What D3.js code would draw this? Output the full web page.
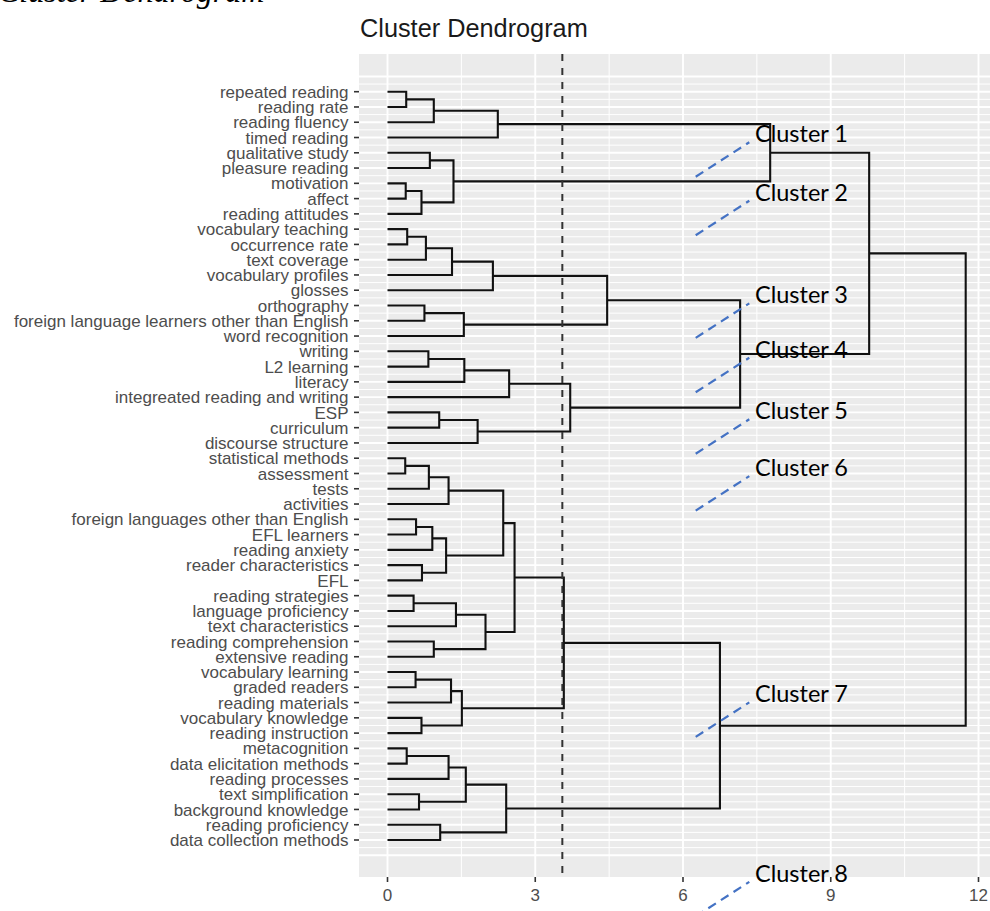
<!DOCTYPE html>
<html>
<head>
<meta charset="utf-8">
<script src="https://cdn.jsdelivr.net/npm/d3@7"></script>
<style>
  html, body { margin: 0; padding: 0; background: #ffffff; overflow: hidden; }
  svg { display: block; }
</style>
</head>
<body>
<script>
// ---------------- data ----------------
const leaves = [
  "repeated reading", "reading rate", "reading fluency", "timed reading",
  "qualitative study", "pleasure reading", "motivation", "affect", "reading attitudes",
  "vocabulary teaching", "occurrence rate", "text coverage", "vocabulary profiles", "glosses",
  "orthography", "foreign language learners other than English", "word recognition",
  "writing", "L2 learning", "literacy", "integreated reading and writing",
  "ESP", "curriculum", "discourse structure",
  "statistical methods", "assessment", "tests", "activities",
  "foreign languages other than English", "EFL learners", "reading anxiety",
  "reader characteristics", "EFL",
  "reading strategies", "language proficiency", "text characteristics",
  "reading comprehension", "extensive reading",
  "vocabulary learning", "graded readers", "reading materials",
  "vocabulary knowledge", "reading instruction",
  "metacognition", "data elicitation methods", "reading processes",
  "text simplification", "background knowledge",
  "reading proficiency", "data collection methods"
];

// hclust-style merge pairs: negative = leaf (1-based), positive = earlier merge (1-based)
const merges = [
  [-1, -2], [1, -3], [2, -4], [-5, -6], [-7, -8], [5, -9], [4, 6], [3, 7],
  [-10, -11], [9, -12], [10, -13], [11, -14], [-15, -16], [13, -17], [12, 14],
  [-18, -19], [16, -20], [17, -21], [-22, -23], [19, -24], [18, 20], [15, 21], [8, 22],
  [-25, -26], [24, -27], [25, -28], [-29, -30], [27, -31], [-32, -33], [28, 29], [26, 30],
  [-34, -35], [32, -36], [-37, -38], [33, 34], [31, 35],
  [-39, -40], [37, -41], [-42, -43], [38, 39], [36, 40],
  [-44, -45], [42, -46], [-47, -48], [43, 44], [-49, -50], [45, 46], [41, 47], [23, 48]
];
const mergeHeights = [
  0.38, 0.94, 2.24, 0.86, 0.37, 0.69, 1.34, 7.77,
  0.40, 0.78, 1.31, 2.14, 0.75, 1.55, 4.46,
  0.83, 1.56, 2.47, 1.05, 1.83, 3.71, 7.16, 9.78,
  0.36, 0.84, 1.24, 0.58, 0.91, 0.70, 1.19, 2.35,
  0.53, 1.39, 0.94, 1.99, 2.58,
  0.57, 1.29, 0.69, 1.51, 3.58,
  0.39, 1.24, 0.64, 1.59, 1.07, 2.41, 6.75, 11.74
];
const cutHeight = 3.55;
const xTicks = [0, 3, 6, 9, 12];
const xMinor = [1.5, 4.5, 7.5, 10.5];

const clusterNames = ["Cluster 1", "Cluster 2", "Cluster 3", "Cluster 4",
                      "Cluster 5", "Cluster 6", "Cluster 7", "Cluster 8"];
const clusterLabelPos = [4.31, 8.14, 14.86, 18.42, 22.45, 26.17, 40.99, 52.74];

// ---------------- layout ----------------
const W = 990, H = 911;
const panel = { left: 359, right: 1000, top: 54, bottom: 877 };

const x = d3.scaleLinear().domain([0, 12]).range([387.5, 978.5]);
const y = d3.scaleLinear().domain([1, 50]).range([91.7, 840]);

const svg = d3.select("body").append("svg")
  .attr("width", W).attr("height", H);

// top-left cropped italic caption
svg.append("text")
  .attr("x", -2).attr("y", 2)
  .attr("font-family", "Liberation Serif, Times New Roman, serif")
  .attr("font-style", "italic")
  .attr("font-size", 32)
  .attr("fill", "#000")
  .text("Cluster Dendrogram");

// title
svg.append("text")
  .attr("x", 360).attr("y", 36.5)
  .attr("font-family", "Liberation Sans, Arial, sans-serif")
  .attr("font-size", 25.3)
  .attr("fill", "#1a1a1a")
  .text("Cluster Dendrogram");

// panel background
svg.append("rect")
  .attr("x", panel.left).attr("y", panel.top)
  .attr("width", panel.right - panel.left)
  .attr("height", panel.bottom - panel.top)
  .attr("fill", "#EBEBEB");

const grid = svg.append("g");
// horizontal grid lines
const hMajor = d3.range(0, 52, 1);
const hMinor = d3.range(0.5, 51, 1);
grid.selectAll(".hmin").data(hMinor).join("line")
  .attr("x1", panel.left).attr("x2", panel.right)
  .attr("y1", d => y(d)).attr("y2", d => y(d))
  .attr("stroke", "#fff").attr("stroke-width", 1);
grid.selectAll(".hmaj").data(hMajor).join("line")
  .attr("x1", panel.left).attr("x2", panel.right)
  .attr("y1", d => y(d)).attr("y2", d => y(d))
  .attr("stroke", "#fff").attr("stroke-width", 1.9);
// vertical grid lines
grid.selectAll(".vmin").data(xMinor).join("line")
  .attr("x1", d => x(d)).attr("x2", d => x(d))
  .attr("y1", panel.top).attr("y2", panel.bottom)
  .attr("stroke", "#fff").attr("stroke-width", 1);
grid.selectAll(".vmaj").data(xTicks).join("line")
  .attr("x1", d => x(d)).attr("x2", d => x(d))
  .attr("y1", panel.top).attr("y2", panel.bottom)
  .attr("stroke", "#fff").attr("stroke-width", 1.9);

// ---------------- dendrogram ----------------
const nodePos = [], nodeH = [];
function childInfo(c) {
  if (c < 0) return { p: -c, h: 0 };
  return { p: nodePos[c - 1], h: nodeH[c - 1] };
}
const segs = [];
merges.forEach((m, i) => {
  const a = childInfo(m[0]), b = childInfo(m[1]);
  const h = mergeHeights[i];
  nodePos[i] = (a.p + b.p) / 2;
  nodeH[i] = h;
  segs.push([[a.h, a.p], [h, a.p], [h, b.p], [b.h, b.p]]);
});
const line = d3.line().x(d => x(d[0])).y(d => y(d[1]));
svg.append("g").selectAll("path").data(segs).join("path")
  .attr("d", line)
  .attr("fill", "none")
  .attr("stroke", "#111")
  .attr("stroke-width", 2.1)
  .attr("stroke-linejoin", "miter");

// cut line
svg.append("line")
  .attr("x1", x(cutHeight)).attr("x2", x(cutHeight))
  .attr("y1", panel.top).attr("y2", panel.bottom)
  .attr("stroke", "#333").attr("stroke-width", 2)
  .attr("stroke-dasharray", "7,7");

// ---------------- axes ----------------
const axisFont = "Liberation Sans, Arial, sans-serif";
const yAxis = svg.append("g");
yAxis.selectAll("line").data(leaves).join("line")
  .attr("x1", panel.left - 5).attr("x2", panel.left)
  .attr("y1", (d, i) => y(i + 1)).attr("y2", (d, i) => y(i + 1))
  .attr("stroke", "#333").attr("stroke-width", 1.6);
yAxis.selectAll("text").data(leaves).join("text")
  .attr("x", panel.left - 10.5)
  .attr("y", (d, i) => y(i + 1))
  .attr("dy", "0.36em")
  .attr("text-anchor", "end")
  .attr("font-family", axisFont)
  .attr("font-size", 17)
  .attr("fill", "#4D4D4D")
  .text(d => d);

const xAxis = svg.append("g");
xAxis.selectAll("line").data(xTicks).join("line")
  .attr("x1", d => x(d)).attr("x2", d => x(d))
  .attr("y1", panel.bottom).attr("y2", panel.bottom + 5)
  .attr("stroke", "#333").attr("stroke-width", 1.6);
xAxis.selectAll("text").data(xTicks).join("text")
  .attr("x", d => x(d)).attr("y", 900.5)
  .attr("text-anchor", "middle")
  .attr("font-family", axisFont)
  .attr("font-size", 17)
  .attr("fill", "#4D4D4D")
  .text(d => d);

// ---------------- cluster annotations ----------------
const ann = svg.append("g");
clusterNames.forEach((name, i) => {
  const b = y(clusterLabelPos[i]);
  ann.append("line")
    .attr("x1", 695.7).attr("y1", b + 34.5)
    .attr("x2", 749.3).attr("y2", b)
    .attr("stroke", "#4472C4").attr("stroke-width", 2.2)
    .attr("stroke-dasharray", "9,6");
  ann.append("text")
    .attr("x", 755).attr("y", b)
    .attr("font-family", "Lato, Open Sans, sans-serif")
    .attr("font-size", 23.5)
    .attr("fill", "#000")
    .text(name);
});
</script>
</body>
</html>
